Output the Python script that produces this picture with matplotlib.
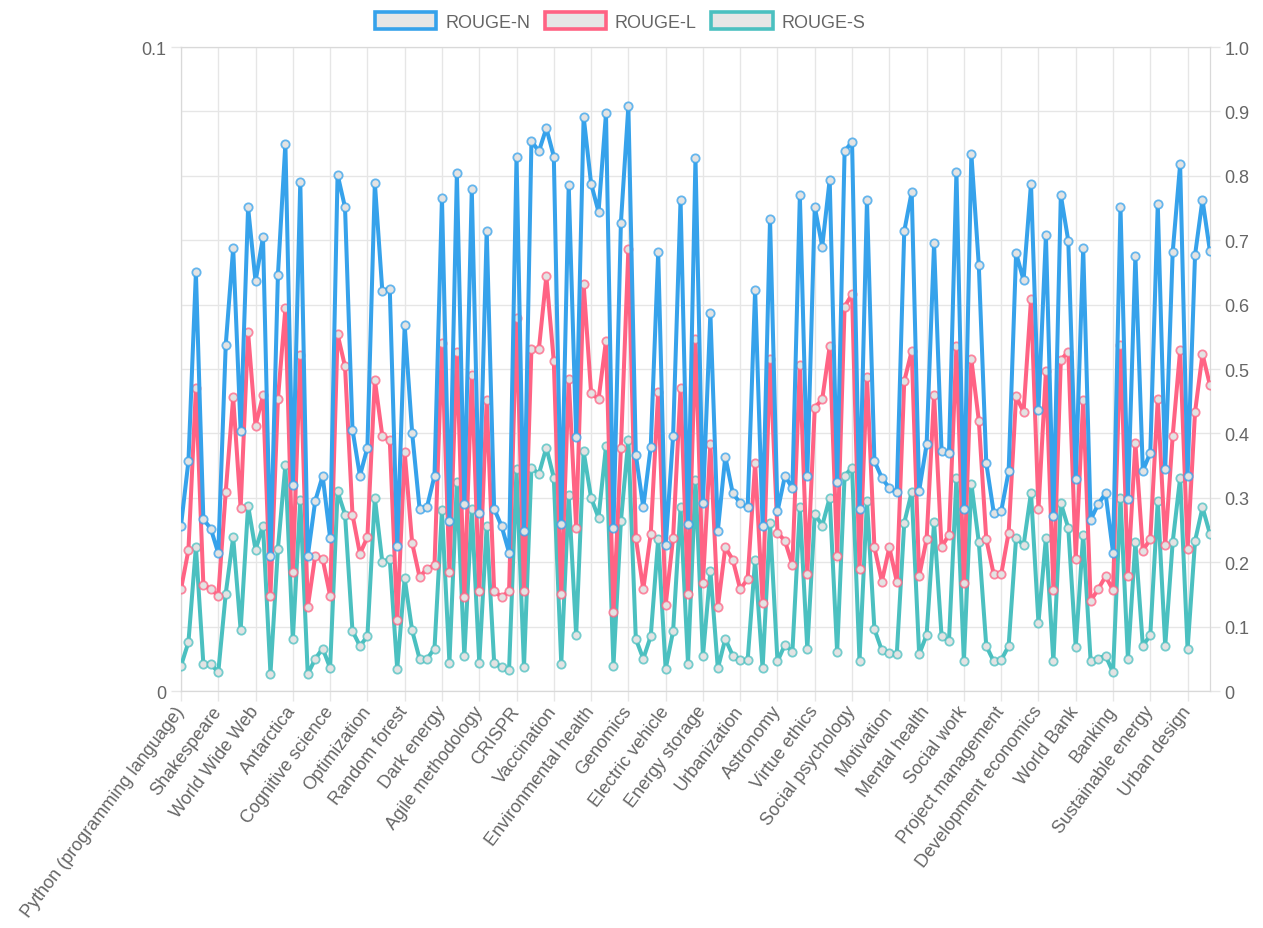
import matplotlib
matplotlib.use("Agg")
import matplotlib.pyplot as plt
from matplotlib.patches import Patch
from matplotlib.colors import to_rgba
import numpy as np

# labels that are visible on the x axis (every 5th category is shown)
shown_labels = [
    "Python (programming language)", "Shakespeare", "World Wide Web", "Antarctica",
    "Cognitive science", "Optimization", "Random forest", "Dark energy",
    "Agile methodology", "CRISPR", "Vaccination", "Environmental health",
    "Genomics", "Electric vehicle", "Energy storage", "Urbanization",
    "Astronomy", "Virtue ethics", "Social psychology", "Motivation",
    "Mental health", "Social work", "Project management", "Development economics",
    "World Bank", "Banking", "Sustainable energy", "Urban design",
]
label_step = 5

rouge_n = [
    0.257, 0.357, 0.65, 0.267, 0.252, 0.214, 0.537, 0.688, 0.404, 0.751,
    0.636, 0.705, 0.209, 0.646, 0.85, 0.32, 0.791, 0.209, 0.295, 0.334,
    0.238, 0.802, 0.751, 0.406, 0.334, 0.378, 0.789, 0.621, 0.625, 0.225,
    0.568, 0.401, 0.283, 0.286, 0.334, 0.766, 0.264, 0.804, 0.29, 0.779,
    0.277, 0.715, 0.283, 0.256, 0.215, 0.829, 0.248, 0.854, 0.838, 0.874,
    0.83, 0.26, 0.786, 0.394, 0.892, 0.788, 0.744, 0.897, 0.253, 0.727,
    0.908, 0.367, 0.285, 0.379, 0.681, 0.226, 0.396, 0.763, 0.259, 0.827,
    0.292, 0.587, 0.249, 0.364, 0.307, 0.292, 0.285, 0.623, 0.257, 0.733,
    0.279, 0.334, 0.315, 0.77, 0.334, 0.752, 0.69, 0.794, 0.324, 0.838,
    0.853, 0.282, 0.762, 0.357, 0.331, 0.315, 0.309, 0.714, 0.775, 0.311,
    0.383, 0.695, 0.373, 0.37, 0.806, 0.282, 0.834, 0.661, 0.354, 0.277,
    0.279, 0.341, 0.68, 0.638, 0.788, 0.437, 0.708, 0.272, 0.77, 0.699,
    0.329, 0.688, 0.266, 0.29, 0.307, 0.215, 0.752, 0.298, 0.676, 0.342,
    0.37, 0.756, 0.344, 0.681, 0.818, 0.334, 0.677, 0.763, 0.683,
]

rouge_l = [
    0.158, 0.219, 0.47, 0.165, 0.158, 0.148, 0.309, 0.456, 0.284, 0.557,
    0.412, 0.459, 0.148, 0.453, 0.594, 0.185, 0.522, 0.13, 0.21, 0.205,
    0.148, 0.554, 0.504, 0.274, 0.213, 0.239, 0.483, 0.396, 0.39, 0.11,
    0.371, 0.23, 0.177, 0.19, 0.195, 0.54, 0.185, 0.527, 0.146, 0.49,
    0.155, 0.452, 0.155, 0.146, 0.155, 0.58, 0.155, 0.531, 0.531, 0.644,
    0.512, 0.15, 0.485, 0.253, 0.632, 0.463, 0.453, 0.544, 0.123, 0.377,
    0.686, 0.238, 0.158, 0.244, 0.465, 0.133, 0.238, 0.47, 0.15, 0.547,
    0.168, 0.384, 0.13, 0.223, 0.204, 0.158, 0.174, 0.354, 0.137, 0.516,
    0.246, 0.233, 0.196, 0.507, 0.182, 0.44, 0.453, 0.535, 0.21, 0.597,
    0.616, 0.19, 0.488, 0.223, 0.17, 0.223, 0.17, 0.481, 0.528, 0.178,
    0.236, 0.46, 0.223, 0.243, 0.536, 0.168, 0.515, 0.42, 0.236, 0.181,
    0.181, 0.246, 0.458, 0.433, 0.608, 0.282, 0.497, 0.157, 0.514, 0.527,
    0.205, 0.452, 0.14, 0.158, 0.178, 0.157, 0.538, 0.179, 0.385, 0.218,
    0.236, 0.453, 0.226, 0.396, 0.529, 0.22, 0.433, 0.523, 0.475,
]

rouge_s = [
    0.039, 0.076, 0.224, 0.042, 0.042, 0.029, 0.151, 0.239, 0.095, 0.288,
    0.219, 0.257, 0.027, 0.221, 0.351, 0.08, 0.297, 0.026, 0.05, 0.066,
    0.036, 0.31, 0.274, 0.093, 0.07, 0.085, 0.3, 0.2, 0.205, 0.034,
    0.175, 0.094, 0.05, 0.05, 0.066, 0.281, 0.044, 0.324, 0.054, 0.283,
    0.044, 0.257, 0.044, 0.037, 0.033, 0.344, 0.037, 0.347, 0.337, 0.378,
    0.331, 0.042, 0.305, 0.087, 0.372, 0.3, 0.269, 0.38, 0.039, 0.264,
    0.39, 0.081, 0.05, 0.085, 0.236, 0.034, 0.093, 0.285, 0.042, 0.328,
    0.054, 0.187, 0.035, 0.081, 0.055, 0.048, 0.048, 0.204, 0.035, 0.261,
    0.046, 0.072, 0.061, 0.285, 0.065, 0.275, 0.257, 0.3, 0.06, 0.334,
    0.347, 0.047, 0.295, 0.096, 0.063, 0.059, 0.057, 0.261, 0.309, 0.057,
    0.087, 0.262, 0.086, 0.078, 0.331, 0.046, 0.322, 0.231, 0.07, 0.046,
    0.048, 0.07, 0.238, 0.226, 0.308, 0.106, 0.238, 0.046, 0.292, 0.253,
    0.068, 0.243, 0.046, 0.05, 0.055, 0.029, 0.3, 0.05, 0.231, 0.07,
    0.087, 0.295, 0.07, 0.231, 0.331, 0.065, 0.233, 0.285, 0.244,
]

series = [
    ("ROUGE-N", rouge_n, "#36a2eb"),
    ("ROUGE-L", rouge_l, "#ff6384"),
    ("ROUGE-S", rouge_s, "#4bc0c0"),
]

TEXT = "#666666"
GRID = "#e6e6e6"


def main():
    plt.rcParams["font.family"] = ["Liberation Sans", "DejaVu Sans"]
    fig = plt.figure(figsize=(12.63, 9.29), dpi=100)
    ax = fig.add_axes([0.1433, 0.2551, 0.8147, 0.6932])
    ax2 = ax.twinx()

    n = len(rouge_n)
    x = np.arange(n)

    # first dataset ends up on top, like the original
    for z, (name, vals, col) in enumerate(reversed(series)):
        ax2.plot(x, vals, color=col, lw=2.9, zorder=3 + z,
                 marker="o", ms=6, mfc="#e3e3e3", mec=to_rgba(col, 0.75), mew=1.3)

    ax.set_xlim(0, n - 1)
    ax.set_ylim(0, 0.1)
    ax.set_yticks([0, 0.1])
    ax.set_yticklabels(["0", "0.1"])
    ax2.set_ylim(0, 1.0)
    ticks = np.round(np.arange(0, 1.01, 0.1), 1)
    ax2.set_yticks(ticks)
    ax2.set_yticklabels(["0" if t == 0 else ("1.0" if t == 1 else f"{t:g}") for t in ticks])

    pos = np.arange(0, n, label_step)[:len(shown_labels)]
    ax.set_xticks(pos)
    ax.set_xticklabels(shown_labels, rotation=53, ha="right", va="center",
                       rotation_mode="anchor")

    ax.grid(axis="x", color=GRID, lw=1)
    ax2.grid(axis="y", color=GRID, lw=1)
    ax.set_axisbelow(True)
    ax2.set_axisbelow(True)

    for a in (ax, ax2):
        for s in a.spines.values():
            s.set_color("#d9d9d9")
        a.tick_params(colors=GRID, labelcolor=TEXT, labelsize=13, length=7, width=1)
    ax.tick_params(axis="x", pad=5)

    handles = [Patch(facecolor="#e6e6e6", edgecolor=c, linewidth=2.6, label=nm)
               for nm, _, c in series]
    fig.legend(handles=handles, loc="center", bbox_to_anchor=(0.491, 0.976), ncol=3,
               frameon=False, fontsize=13, labelcolor=TEXT, handlelength=3.4,
               handleheight=1.05, handletextpad=0.5, columnspacing=0.8)

    fig.savefig("out.png", dpi=100)


if __name__ == "__main__":
    main()
